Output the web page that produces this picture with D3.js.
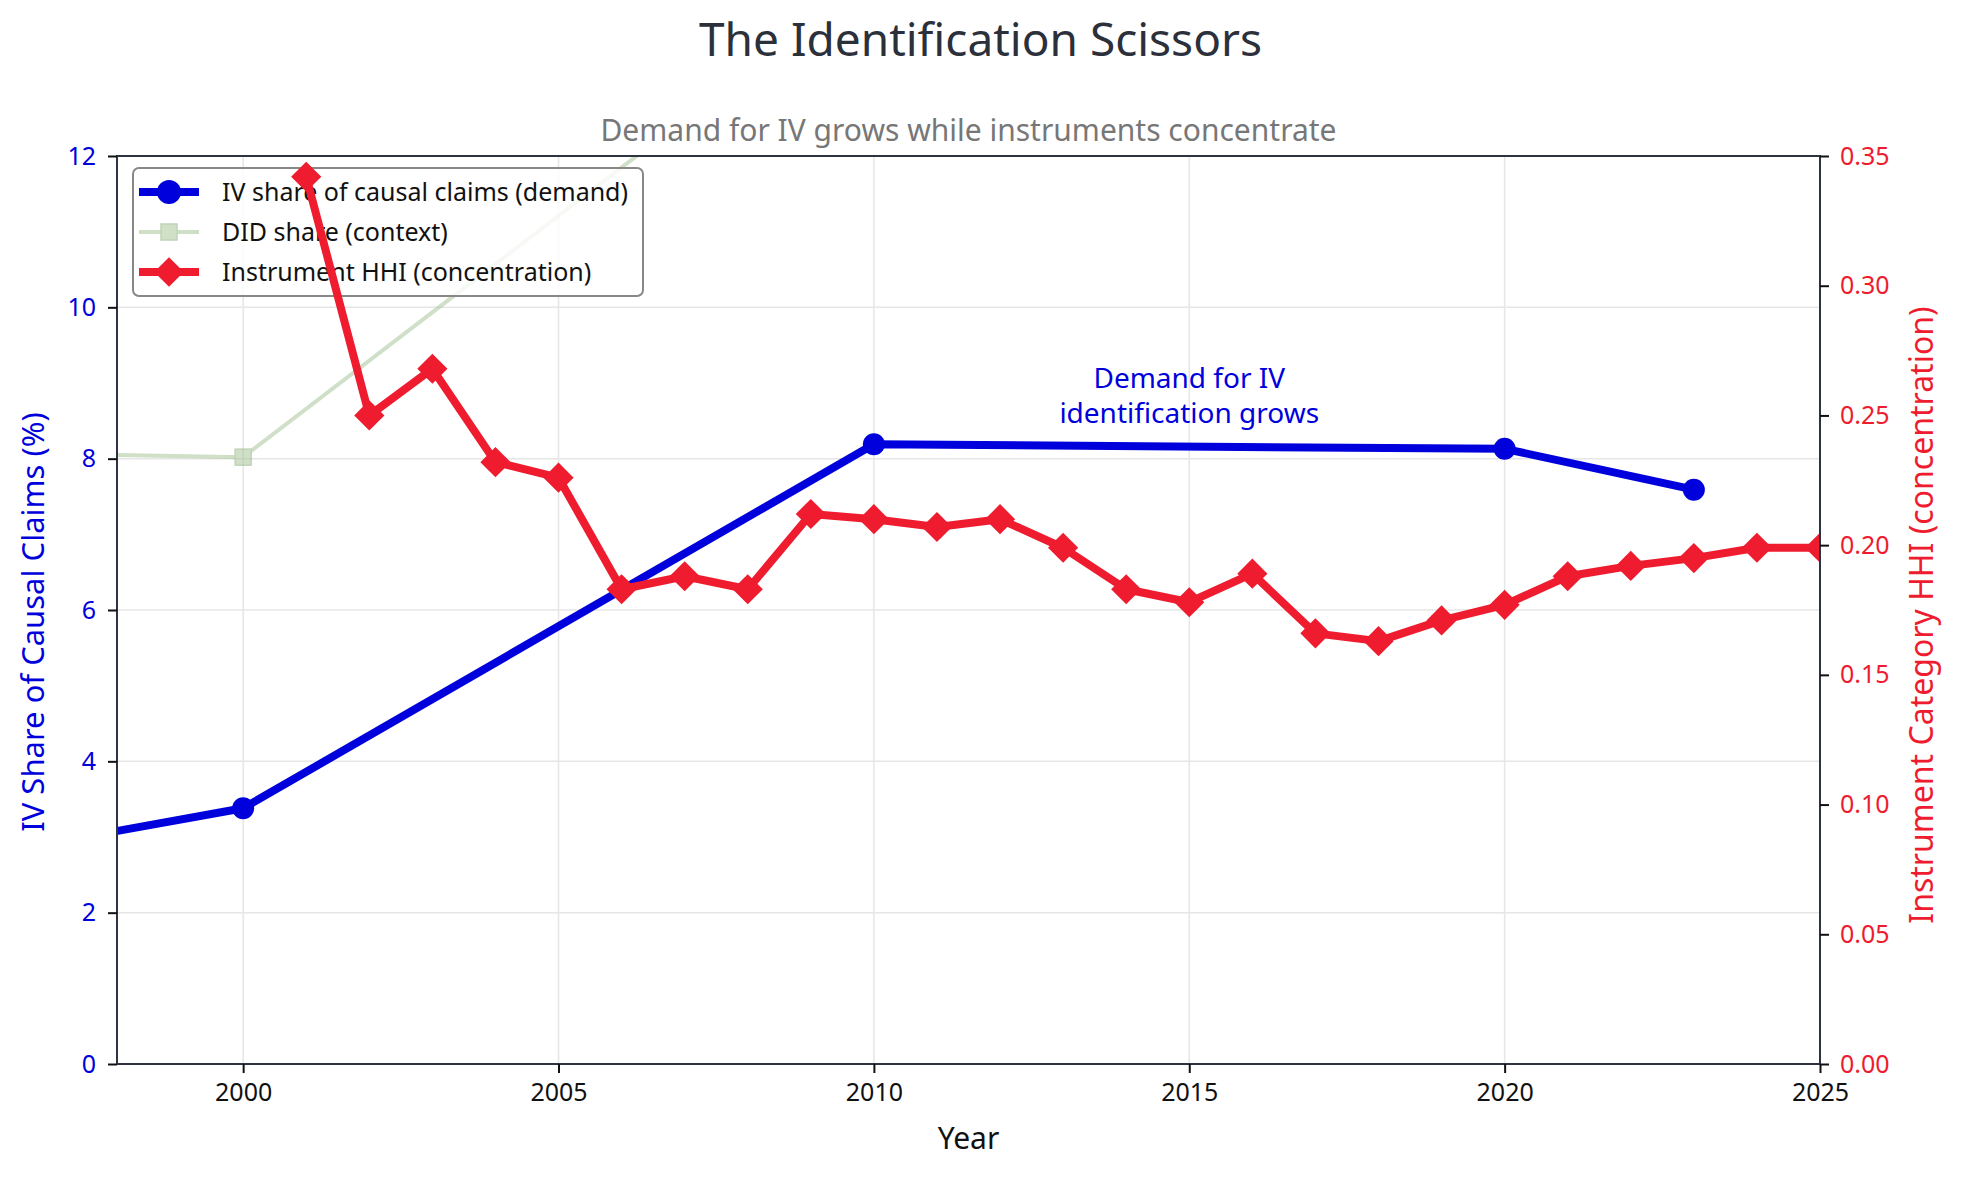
<!DOCTYPE html>
<html>
<head>
<meta charset="utf-8">
<script src="https://cdn.jsdelivr.net/npm/d3@7"></script>
<style>
  body { margin: 0; background: #fff; }
  svg text { font-family: "Noto Sans", "DejaVu Sans", sans-serif; }
</style>
</head>
<body>
<svg id="chart" width="1961" height="1177"></svg>
<script>
// data
var ivYears = [1990, 2000, 2010, 2020, 2023];
var ivShare = [1.88, 3.38, 8.19, 8.13, 7.59];

var didYears = [1990, 2000, 2010, 2020, 2023];
var didShare = [8.17, 8.02, 14.4, 22.0, 24.0];

var hhiYears = [2001, 2002, 2003, 2004, 2005, 2006, 2007, 2008, 2009, 2010, 2011, 2012, 2013,
                2014, 2015, 2016, 2017, 2018, 2019, 2020, 2021, 2022, 2023, 2024, 2025];
var hhiValues = [0.342, 0.250, 0.268, 0.232, 0.226, 0.183, 0.188, 0.183, 0.212, 0.210, 0.207, 0.210, 0.199,
                 0.183, 0.178, 0.189, 0.166, 0.163, 0.171, 0.177, 0.188, 0.192, 0.195, 0.199, 0.199];

var xTicks = [2000, 2005, 2010, 2015, 2020, 2025];
var leftTicks = [0, 2, 4, 6, 8, 10, 12];
var rightTicks = [0, 0.05, 0.10, 0.15, 0.20, 0.25, 0.30, 0.35];

var legendItems = [
  {label: 'IV share of causal claims (demand)', kind: 'iv'},
  {label: 'DID share (context)', kind: 'did'},
  {label: 'Instrument HHI (concentration)', kind: 'hhi'}
];

var blue = '#0000dd', red = '#ee1c2e', green = '#a9c79a', spine = '#2d3340';

var W = 1961, H = 1177,
    margin = {left: 117, top: 156, right: 141, bottom: 113},
    pw = W - margin.left - margin.right,
    ph = H - margin.top - margin.bottom;

var svg = d3.select('#chart');

var x = d3.scaleLinear().domain([1998, 2025]).range([0, pw]);
var yL = d3.scaleLinear().domain([0, 12]).range([ph, 0]);
var yR = d3.scaleLinear().domain([0, 0.35]).range([ph, 0]);

svg.append('defs').append('clipPath').attr('id', 'plotclip')
   .append('rect').attr('width', pw).attr('height', ph);

var g = svg.append('g').attr('transform', 'translate(' + margin.left + ',' + margin.top + ')');

// grid
var grid = g.append('g');
grid.selectAll('line.gx').data(xTicks).enter().append('line')
    .attr('x1', d => x(d)).attr('x2', d => x(d)).attr('y1', 0).attr('y2', ph)
    .style('stroke', '#e6e6e6').style('stroke-width', 1.5);
grid.selectAll('line.gy').data(leftTicks).enter().append('line')
    .attr('x1', 0).attr('x2', pw).attr('y1', d => yL(d)).attr('y2', d => yL(d))
    .style('stroke', '#e6e6e6').style('stroke-width', 1.5);

var plot = g.append('g').attr('clip-path', 'url(#plotclip)');

// DID context line
var didPts = didYears.map((yr, i) => [yr, didShare[i]]);
var didG = plot.append('g').style('opacity', 0.55);
didG.append('path').datum(didPts)
    .attr('d', d3.line().x(d => x(d[0])).y(d => yL(d[1])))
    .style('fill', 'none').style('stroke', green).style('stroke-width', 4);
didG.selectAll('rect').data(didPts).enter().append('rect')
    .attr('x', d => x(d[0]) - 8).attr('y', d => yL(d[1]) - 8)
    .attr('width', 16).attr('height', 16)
    .style('fill', green).style('stroke', '#8fb07f').style('stroke-width', 1.5);

// IV share line
var ivPts = ivYears.map((yr, i) => [yr, ivShare[i]]);
plot.append('path').datum(ivPts)
    .attr('d', d3.line().x(d => x(d[0])).y(d => yL(d[1])))
    .style('fill', 'none').style('stroke', blue).style('stroke-width', 8)
    .style('stroke-linejoin', 'round');
plot.selectAll('circle.iv').data(ivPts).enter().append('circle')
    .attr('cx', d => x(d[0])).attr('cy', d => yL(d[1])).attr('r', 11)
    .style('fill', blue);

// annotation
var ann = g.append('text').attr('x', x(2015)).attr('y', 232)
    .style('fill', blue).style('font-size', '28px').style('text-anchor', 'middle');
ann.append('tspan').attr('x', x(2015)).attr('dy', 0).text('Demand for IV');
ann.append('tspan').attr('x', x(2015)).attr('dy', 35).text('identification grows');

// legend
var leg = g.append('g').attr('transform', 'translate(16,12)');
leg.append('rect').attr('width', 510).attr('height', 128).attr('rx', 6)
   .style('fill', 'white').style('fill-opacity', 0.8)
   .style('stroke', '#888').style('stroke-width', 2);
leg.selectAll('g.item').data(legendItems).enter().append('g')
   .attr('transform', (d, i) => 'translate(0,' + (24 + i * 40) + ')')
   .each(function(d) {
     var s = d3.select(this);
     if (d.kind === 'iv') {
       s.append('line').attr('x1', 6).attr('x2', 66).style('stroke', blue).style('stroke-width', 8);
       s.append('circle').attr('cx', 36).attr('r', 12).style('fill', blue);
     } else if (d.kind === 'did') {
       var dg = s.append('g').style('opacity', 0.55);
       dg.append('line').attr('x1', 6).attr('x2', 66).style('stroke', green).style('stroke-width', 4);
       dg.append('rect').attr('x', 28).attr('y', -8).attr('width', 16).attr('height', 16)
         .style('fill', green).style('stroke', '#8fb07f').style('stroke-width', 1.5);
     } else {
       s.append('line').attr('x1', 6).attr('x2', 66).style('stroke', red).style('stroke-width', 8);
       s.append('path').attr('d', d3.symbol(d3.symbolDiamond2, 560)).attr('transform', 'translate(36,0)')
        .style('fill', red);
     }
     s.append('text').attr('x', 89).attr('y', 0).attr('dy', '0.35em')
      .style('font-size', '25px').style('fill', '#111').text(d.label);
   });

// HHI line (twin axis, drawn on top)
var hhiPts = hhiYears.map((yr, i) => [yr, hhiValues[i]]);
var plot2 = g.append('g').attr('clip-path', 'url(#plotclip)');
plot2.append('path').datum(hhiPts)
    .attr('d', d3.line().x(d => x(d[0])).y(d => yR(d[1])))
    .style('fill', 'none').style('stroke', red).style('stroke-width', 8)
    .style('stroke-linejoin', 'round');
plot2.selectAll('path.hhi').data(hhiPts).enter().append('path')
    .attr('d', d3.symbol(d3.symbolDiamond2, 580))
    .attr('transform', d => 'translate(' + x(d[0]) + ',' + yR(d[1]) + ')')
    .style('fill', red);

// frame
g.append('rect').attr('width', pw).attr('height', ph)
 .style('fill', 'none').style('stroke', spine).style('stroke-width', 2);

// axes
function styleAxis(sel, color) {
  sel.select('.domain').remove();
  sel.selectAll('.tick line').style('stroke', '#111').style('stroke-width', 2);
  sel.selectAll('.tick text').style('font-size', '25px').style('fill', color)
     .style('font-family', '"Noto Sans", sans-serif');
}
g.append('g').attr('transform', 'translate(0,' + ph + ')')
 .call(d3.axisBottom(x).tickValues(xTicks).tickFormat(d3.format('d')).tickSize(9).tickPadding(10))
 .call(s => styleAxis(s, '#111'));
g.append('g')
 .call(d3.axisLeft(yL).tickValues(leftTicks).tickFormat(d3.format('d')).tickSize(9).tickPadding(12))
 .call(s => styleAxis(s, blue));
g.append('g').attr('transform', 'translate(' + pw + ',0)')
 .call(d3.axisRight(yR).tickValues(rightTicks).tickFormat(d3.format('.2f')).tickSize(9).tickPadding(11))
 .call(s => styleAxis(s, red));

// labels
g.append('text').attr('x', pw / 2).attr('y', ph + 85).style('text-anchor', 'middle')
 .style('font-size', '30px').style('fill', '#111').text('Year');
g.append('text').attr('transform', 'translate(' + (-73) + ',' + (ph / 2 + 12) + ') rotate(-90)')
 .style('text-anchor', 'middle').style('font-size', '31px').style('fill', blue)
 .text('IV Share of Causal Claims (%)');
g.append('text').attr('transform', 'translate(' + (pw + 113) + ',' + (ph / 2 + 5) + ') rotate(-90)')
 .style('text-anchor', 'middle').style('font-size', '32px').style('fill', red)
 .text('Instrument Category HHI (concentration)');

svg.append('text').attr('x', W / 2).attr('y', 56).style('text-anchor', 'middle')
 .style('font-size', '46px').style('fill', '#2b303b').text('The Identification Scissors');
svg.append('text').attr('x', margin.left + pw / 2).attr('y', 141).style('text-anchor', 'middle')
 .style('font-size', '30px').style('fill', '#777').text('Demand for IV grows while instruments concentrate');
</script>
</body>
</html>
